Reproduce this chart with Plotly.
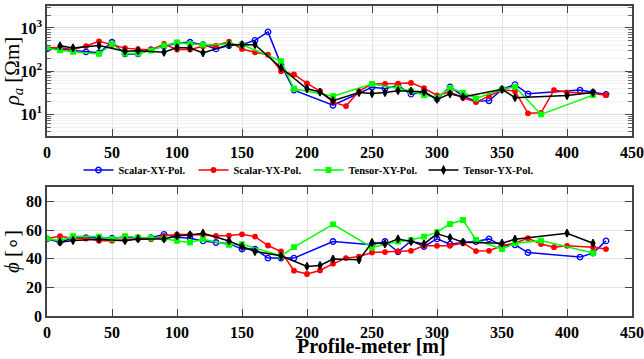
import plotly.graph_objects as go

# ---------------- data ----------------
series_names = ["Scalar-XY-Pol.", "Scalar-YX-Pol.", "Tensor-XY-Pol.", "Tensor-YX-Pol."]

sxy_x = [0, 10, 20, 30, 40, 50, 60, 70, 80, 90, 100, 110, 120, 130, 140, 150, 160, 170, 180, 190,
         220, 250, 260, 270, 280, 290, 300, 310, 320, 330, 340, 350, 360, 370, 410, 420, 430]
sxy_rho = [325, 330, 300, 277, 264, 465, 250, 250, 315, 375, 445, 465, 410, 325, 389, 410, 516, 807, 141, 36,
           16, 42, 39, 46, 29, 32, 22.5, 43, 26, 20, 20.4, 37.5, 48.5, 29.5, 36, 32, 28.6]
sxy_phi = [53.8, 51.5, 54.5, 54.7, 54.7, 54.3, 55.0, 54.5, 54.7, 57.0, 55.0, 54.3, 52.4, 51.3, 50.5, 46.7, 46.7, 40.4, 40.4, 40.4,
           52.0, 49.7, 52.0, 44.8, 52.4, 48.5, 53.8, 50.1, 51.3, 52.0, 53.8, 49.0, 49.7, 44.3, 41.1, 43.9, 52.4]

syx_x = [0, 10, 20, 30, 40, 50, 60, 70, 80, 90, 100, 110, 120, 130, 140, 150, 160, 170, 180, 190, 200, 210,
         220, 230, 240, 250, 260, 270, 280, 290, 300, 310, 320, 330, 340, 350, 360, 370, 380, 390, 400, 420, 430]
syx_rho = [350, 345, 315, 380, 490, 400, 340, 320, 310, 425, 315, 315, 375, 390, 480, 325, 272, 240, 99, 83, 51.6, 34,
           19, 15.3, 34, 50, 50, 51, 53, 40, 27, 32.6, 24, 19, 26, 37, 34, 10.4, 10.7, 36, 32, 30, 27.5]
syx_phi = [54.0, 55.7, 54.3, 54.0, 52.6, 52.6, 53.2, 53.8, 53.6, 55.9, 57.0, 57.0, 56.6, 55.9, 56.1, 57.0, 55.4, 49.2, 45.0, 31.6, 29.3, 31.8,
           36.5, 40.4, 41.5, 44.3, 44.6, 45.0, 45.5, 49.0, 49.0, 49.0, 51.0, 45.3, 45.5, 49.0, 51.0, 54.3, 50.3, 48.0, 49.0, 48.0, 46.7]

txy_x = [0, 10, 20, 40, 50, 60, 70, 80, 90, 100, 110, 120, 140, 150, 180, 190,
         220, 250, 270, 280, 290, 300, 310, 320, 330, 350, 360, 380, 420]
txy_rho = [340, 302, 280, 250, 425, 255, 255, 297, 390, 460, 425, 410, 425, 410, 169, 38.7,
           26, 50, 40, 34, 27.5, 24, 40, 31.6, 23, 37.5, 43, 9.8, 27.5]
txy_phi = [54.0, 52.5, 55.7, 55.4, 53.8, 55.7, 54.8, 54.5, 54.0, 52.4, 51.3, 53.6, 49.7, 50.1, 42.0, 48.0,
           64.0, 47.8, 52.0, 53.0, 55.4, 58.5, 64.2, 67.0, 53.1, 46.7, 50.8, 52.6, 43.9]

tyx_x = [10, 20, 40, 60, 70, 90, 100, 110, 120, 140, 150, 160, 180, 200, 210, 220, 240, 250, 260, 270,
         280, 290, 300, 310, 320, 350, 360, 400, 420]
tyx_rho = [385, 343, 389, 288, 297, 272, 350, 343, 264, 410, 410, 410, 119, 38.7, 32.5, 20.5, 31.6, 30, 31.6, 35,
           34, 33, 22, 29.5, 25, 37.5, 24, 27, 31.6]
tyx_phi = [51.5, 52.7, 53.6, 52.6, 53.8, 53.8, 56.0, 56.6, 57.8, 52.4, 48.5, 45.0, 42.0, 34.6, 35.3, 39.7, 39.2, 51.3, 50.3, 53.8,
           52.0, 50.3, 57.3, 54.7, 51.5, 50.8, 53.6, 57.8, 50.8]

x_ticks = [0, 50, 100, 150, 200, 250, 300, 350, 400, 450]
rho_ticks = [10, 100, 1000]
rho_ticktext = ["<b>10</b><sup><b>1</b></sup>", "<b>10</b><sup><b>2</b></sup>", "<b>10</b><sup><b>3</b></sup>"]
rho_minor = [m * d for d in (1, 10, 100, 1000) for m in range(2, 10)]
phi_ticks = [0, 20, 40, 60, 80]

# ---------------- styles ----------------
styles = [
    dict(color="#0000ff", symbol="circle-open", size=5.5),
    dict(color="#ff0000", symbol="circle", size=4.5),
    dict(color="#00ff00", symbol="square", size=4.5),
    dict(color="#000000", symbol="diamond-tall", size=5.5),
]
data = [(sxy_x, sxy_rho, sxy_phi), (syx_x, syx_rho, syx_phi),
        (txy_x, txy_rho, txy_phi), (tyx_x, tyx_rho, tyx_phi)]

fig = go.Figure()
for name, st, (xs, rho, phi) in zip(series_names, styles, data):
    line = dict(color=st["color"], width=1.5)
    marker = dict(color=st["color"], symbol=st["symbol"], size=st["size"],
                  line=dict(color=st["color"], width=1.3))
    fig.add_trace(go.Scatter(x=xs, y=rho, mode="lines+markers", name="<b>%s</b>" % name, line=line,
                             marker=marker, xaxis="x", yaxis="y", showlegend=True))
    fig.add_trace(go.Scatter(x=xs, y=phi, mode="lines+markers", name="<b>%s</b>" % name, line=line,
                             marker=marker, xaxis="x2", yaxis="y2", showlegend=False))

FONT = "Liberation Serif, Times New Roman, serif"
tickfont = dict(family=FONT, size=16, color="black")
x_ticktext = ["<b>%d</b>" % v for v in x_ticks]
phi_ticktext = ["<b>%d</b>" % v for v in phi_ticks]

common_x = dict(range=[0, 450], tickvals=x_ticks, ticktext=x_ticktext,
                ticks="inside", ticklen=7, tickcolor="#444",
                showline=True, linecolor="#444", linewidth=1.5, mirror="ticks",
                showgrid=True, gridcolor="#e4e4e4", gridwidth=1, zeroline=False,
                tickfont=tickfont, automargin=False, ticklabeloverflow="allow",
                ticklabelstandoff=1)

fig.update_layout(
    width=644, height=359,
    margin=dict(l=47, r=12, t=6, b=43),
    paper_bgcolor="white", plot_bgcolor="white",
    xaxis=dict(domain=[0, 1], anchor="y", **common_x),
    yaxis=dict(domain=[0.5806, 1], anchor="x", type="log", range=[0.49, 3.51],
               tickvals=rho_ticks, ticktext=rho_ticktext,
               ticks="inside", ticklen=7, tickcolor="#444",
               showline=True, linecolor="#444", linewidth=1.5, mirror="ticks",
               showgrid=True, gridcolor="#dcdcdc", zeroline=False, tickfont=tickfont,
               automargin=False,
               minor=dict(tickvals=rho_minor, ticks="inside", ticklen=4, tickcolor="#666",
                          showgrid=True, gridcolor="#f2f2f2"),
               title=dict(text="<i>ρ<sub>a</sub></i> [Ωm]", standoff=2,
                          font=dict(family=FONT, size=21, color="black"))),
    xaxis2=dict(domain=[0, 1], anchor="y2", **common_x),
    yaxis2=dict(domain=[0, 0.416], anchor="x2", range=[0, 90], tickvals=phi_ticks,
                ticktext=phi_ticktext,
                ticks="inside", ticklen=7, tickcolor="#444",
                showline=True, linecolor="#444", linewidth=1.5, mirror="ticks",
                showgrid=True, gridcolor="#e4e4e4", zeroline=False, tickfont=tickfont,
                automargin=False,
                title=dict(text="<i>ϕ</i> [∘]", standoff=2,
                           font=dict(family=FONT, size=21, color="black"))),
    legend=dict(orientation="h", x=0.447, xanchor="center", y=0.471, yanchor="middle",
                font=dict(family=FONT, size=10.5, color="black"),
                bgcolor="rgba(0,0,0,0)", itemwidth=30,
                entrywidth=70, entrywidthmode="pixels"),
    showlegend=True,
    annotations=[dict(text="<b>Profile-meter [m]</b>", xref="paper", yref="paper",
                      x=0.554, y=-0.1387, xanchor="center", yanchor="bottom", showarrow=False,
                      font=dict(family=FONT, size=20, color="black"))],
)

fig.write_html("out.html", config={"displayModeBar": False},
               post_script="document.body.style.margin='0';document.body.style.overflow='hidden';")
